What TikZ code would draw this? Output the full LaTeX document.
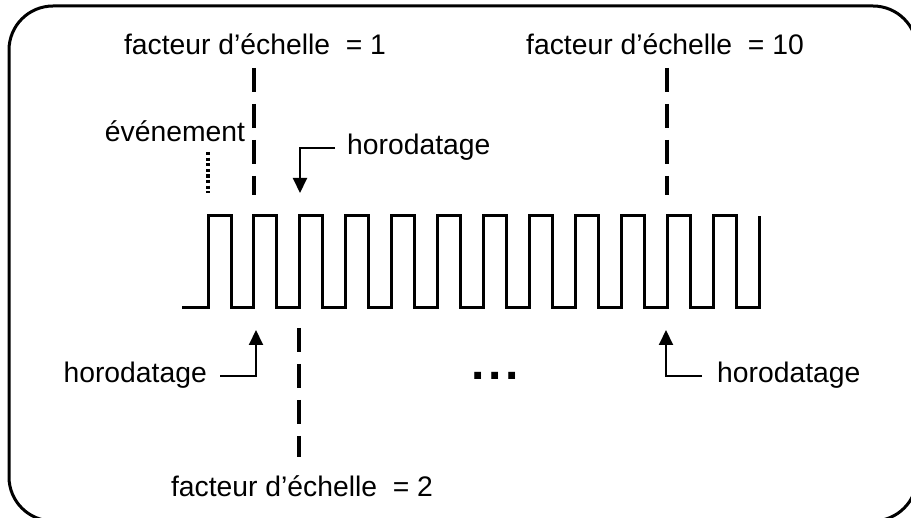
\documentclass[tikz,border=0pt]{standalone}
\usepackage{fontspec}
\setmainfont{Liberation Sans}
\usetikzlibrary{arrows.meta, positioning}

\begin{document}
\begin{tikzpicture}[x=1pt, y=-1pt,
    lbl/.style={font=\fontsize{28.3}{32}\selectfont, inner sep=0pt, anchor=base},
    wave/.style={line width=3pt, line join=miter},
    scaleline/.style={line width=4pt, dash pattern=on 24pt off 12pt},
    evtline/.style={line width=3.5pt, dash pattern=on 3.2pt off 2.4pt},
    arr/.style={-{Triangle[length=15pt, width=14pt]}, line width=2pt}
  ]
    \useasboundingbox (0,0) rectangle (911,518);
    \clip (0,0) rectangle (911,518);
    % frame
    \draw[line width=3pt, rounded corners=44pt] (9,6) rectangle (917,521);

    % clock signal
    \draw[wave] (182,308)
      \foreach \k in {0,...,11} {
        -- ({208+45.92*\k},308) -- ++(0,-92) -- ++(23,0) -- ++(0,92)
      } -- (759,308) -- (759,216);

    % labels
    \node[lbl] (fe1) at (255,55) {facteur d’échelle\ \ = 1};
    \node[lbl] (fe10) at (665,55) {facteur d’échelle\ \ = 10};
    \node[lbl] (fe2) at (302,497) {facteur d’échelle\ \ = 2};
    \node[lbl] (evt) at (175,142) {événement};
    \node[lbl, anchor=base west] (ts1) at (347,155) {horodatage};
    \node[lbl, anchor=base east] (ts2) at (207,383) {horodatage};
    \node[lbl, anchor=base west] (ts3) at (717,383) {horodatage};
    \node[font=\fontsize{48}{48}\selectfont\bfseries, inner sep=0pt,
          anchor=base] (dots) at (495,380) {.\hspace{3.5pt}.\hspace{3.5pt}.};

    % scale lines
    \coordinate (s1top) at (254,68);
    \coordinate (s1bot) at (254,195);
    \coordinate (s10top) at (667,68);
    \coordinate (s10bot) at (667,195);
    \coordinate (s2top) at (299,328);
    \coordinate (s2bot) at (299,457);
    \draw[scaleline] (s1top) -- (s1bot);
    \draw[scaleline] (s10top) -- (s10bot);
    \draw[scaleline] (s2top) -- (s2bot);

    % event
    \coordinate (evtop) at (208,152);
    \coordinate (evbot) at (208,193);
    \draw[evtline] (evtop) -- (evbot);

    % timestamps
    \coordinate (tip1) at (300,193);
    \coordinate (tip2) at (256,330);
    \coordinate (tip3) at (666,330);
    \draw[arr] ([xshift=-12pt]ts1.west) -| (tip1);
    \draw[arr] ([xshift=13pt]ts2.east) -| (tip2);
    \draw[arr] ([xshift=-15pt]ts3.west) -| (tip3);
\end{tikzpicture}
\end{document}
